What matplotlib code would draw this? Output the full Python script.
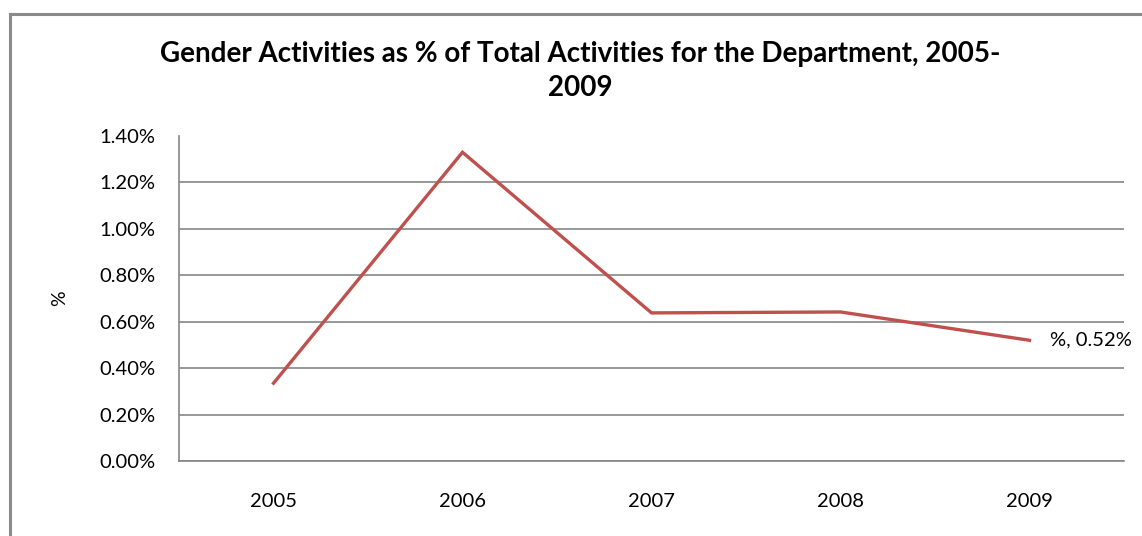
import matplotlib.pyplot as plt
from matplotlib.patches import Rectangle
from matplotlib.ticker import FuncFormatter

years = ['2005', '2006', '2007', '2008', '2009']
share_pct = [0.335, 1.33, 0.638, 0.642, 0.52]
y_ticks = [0.0, 0.2, 0.4, 0.6, 0.8, 1.0, 1.2, 1.4]

plt.rcParams['font.family'] = ['Lato', 'DejaVu Sans']

W, H = 1142, 536
fig = plt.figure(figsize=(W / 100, H / 100), dpi=100)

# outer chart frame (cut off on right and bottom like the screenshot)
fig.patches.append(Rectangle((10 / W, -0.1), 1.2, (H - 14) / H + 0.1,
                             transform=fig.transFigure, fill=False,
                             edgecolor='#8a8a8a', linewidth=2.2))

ax = fig.add_axes([179 / W, (H - 461) / H, (1124 - 179) / W, (461 - 136) / H])
ax.plot(range(len(years)), share_pct, color='#C0504D', linewidth=2.4,
        solid_joinstyle='miter')

ax.set_xlim(-0.5, len(years) - 0.5)
ax.set_ylim(0, 1.4)
ax.set_yticks(y_ticks)
ax.yaxis.set_major_formatter(FuncFormatter(lambda v, p: f'{v:.2f}%'))
ax.set_xticks(range(len(years)))
ax.set_xticklabels(years)
ax.tick_params(axis='y', length=0, labelsize=14.5, colors='black', pad=17)
ax.tick_params(axis='x', length=0, labelsize=14.5, colors='black', pad=23)

ax.grid(axis='y', color='#868686', linewidth=1.2)
ax.get_ygridlines()[-1].set_visible(False)
ax.set_axisbelow(True)
for side in ['top', 'right']:
    ax.spines[side].set_visible(False)
for side in ['left', 'bottom']:
    ax.spines[side].set_color('#868686')
    ax.spines[side].set_linewidth(1.2)

ax.annotate(f'%, {share_pct[-1]:.2f}%', (len(years) - 1, share_pct[-1]),
            xytext=(15, 0), textcoords='offset points', fontsize=14.5,
            va='center', ha='left', annotation_clip=False)

fig.text(60 / W, 1 - 298 / H, '%', rotation=90, fontsize=14,
         ha='center', va='center')
fig.text(580 / W, 1 - 71 / H,
         'Gender Activities as % of Total Activities for the Department, 2005-\n2009',
         ha='center', va='center', fontsize=20, fontweight='bold',
         linespacing=1.42)

fig.savefig('out.png', dpi=100)
